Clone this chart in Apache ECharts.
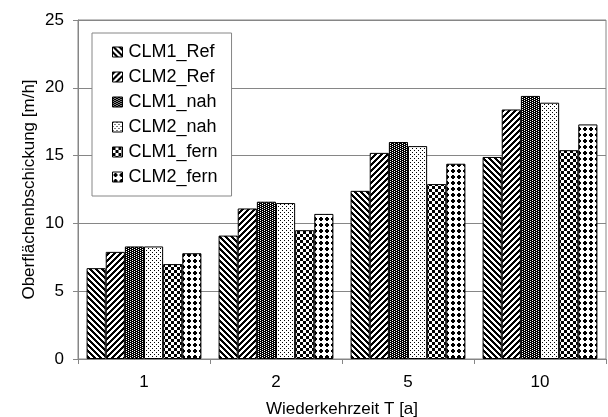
<!DOCTYPE html>
<html>
<head>
<meta charset="utf-8">
<script src="https://cdn.jsdelivr.net/npm/echarts@6/dist/echarts.min.js"></script>
<style>
html,body{margin:0;padding:0;background:#fff;}
#chart{width:608px;height:417px;}
</style>
</head>
<body>
<div id="chart"></div>
<script>
// Data
var categories = ['1', '2', '5', '10'];
var seriesNames = ['CLM1_Ref', 'CLM2_Ref', 'CLM1_nah', 'CLM2_nah', 'CLM1_fern', 'CLM2_fern'];
var CLM1_Ref  = [6.7, 9.1, 12.4, 14.9];
var CLM2_Ref  = [7.9, 11.1, 15.2, 18.4];
var CLM1_nah  = [8.3, 11.6, 16.0, 19.4];
var CLM2_nah  = [8.3, 11.5, 15.7, 18.9];
var CLM1_fern = [7.0, 9.5, 12.9, 15.4];
var CLM2_fern = [7.8, 10.7, 14.4, 17.3];
var yTicks = [0, 5, 10, 15, 20, 25];
var xTitle = 'Wiederkehrzeit T [a]';
var yTitle = 'Oberflächenbschickung [m/h]';

function makePattern(w, h, isBlack) {
  var c = document.createElement('canvas');
  c.width = w; c.height = h;
  var ctx = c.getContext('2d');
  var img = ctx.createImageData(w, h);
  for (var y = 0; y < h; y++) {
    for (var x = 0; x < w; x++) {
      var v = isBlack(x, y) ? 0 : 255;
      var i = (y * w + x) * 4;
      img.data[i] = v; img.data[i + 1] = v; img.data[i + 2] = v; img.data[i + 3] = 255;
    }
  }
  ctx.putImageData(img, 0, 0);
  return { image: c, repeat: 'repeat' };
}

var patterns = [
  makePattern(6, 6, function (x, y) { return ((x - y + 12) % 6) < 3; }),          // \\\
  makePattern(6, 6, function (x, y) { return ((x + y) % 6) < 3; }),               // ///
  makePattern(4, 2, function (x, y) { return !((x === 0 && y === 0) || (x === 2 && y === 1)); }), // dark
  makePattern(4, 4, function (x, y) { return (x === 0 && y === 0) || (x === 2 && y === 2); }),    // light
  makePattern(6, 6, function (x, y) { return ((Math.floor(x / 3) + Math.floor(y / 3)) % 2) === 0; }), // checker
  makePattern(6, 6, function (x, y) {
    var dx = x - 1, dy = y - 1;
    if (dx < 0 || dx > 3 || dy < 0 || dy > 3) return false;
    if ((dx === 0 || dx === 3) && (dy === 0 || dy === 3)) return false;
    return true;
  })
];

var allData = [CLM1_Ref, CLM2_Ref, CLM1_nah, CLM2_nah, CLM1_fern, CLM2_fern];
var series = seriesNames.map(function (n, i) {
  return {
    name: n,
    type: 'bar',
    data: allData[i],
    barGap: '0%',
    barCategoryGap: '13%',
    itemStyle: { color: patterns[i], borderColor: '#000', borderWidth: 1 },
    emphasis: { disabled: true },
    animation: false
  };
});

var chart = echarts.init(document.getElementById('chart'), null, { renderer: 'canvas' });
var font = 'Liberation Sans, Arial, sans-serif';
chart.setOption({
  animation: false,
  backgroundColor: '#fff',
  textStyle: { fontFamily: font },
  grid: {
    left: 78, right: 2, top: 20, bottom: 58,
    outerBoundsMode: 'none',
    containLabel: false,
    show: true, borderColor: '#868686', borderWidth: 1, backgroundColor: 'transparent'
  },
  legend: {
    orient: 'vertical',
    left: 92, top: 33,
    backgroundColor: '#fff',
    borderColor: '#868686', borderWidth: 1,
    padding: [10, 14, 10, 20],
    itemWidth: 10, itemHeight: 10, itemGap: 7,
    icon: 'rect',
    itemStyle: { borderColor: '#000', borderWidth: 1 },
    textStyle: { fontSize: 18, color: '#000', fontFamily: font, lineHeight: 18, padding: [0, 0, 0, 1] },
    data: seriesNames
  },
  xAxis: {
    type: 'category',
    data: categories,
    boundaryGap: true,
    axisLine: { lineStyle: { color: '#868686', width: 1 } },
    axisTick: { show: true, length: 5, lineStyle: { color: '#868686' } },
    axisLabel: { fontSize: 17, color: '#000', margin: 15, fontFamily: font },
    name: xTitle,
    nameLocation: 'middle',
    nameGap: 42,
    nameMoveOverlap: false,
    nameTextStyle: { fontSize: 17, color: '#000', fontFamily: font }
  },
  yAxis: {
    type: 'value',
    min: yTicks[0], max: yTicks[yTicks.length - 1], interval: 5,
    axisLine: { show: true, lineStyle: { color: '#868686', width: 1 } },
    axisTick: { show: true, length: 5, lineStyle: { color: '#868686' } },
    splitLine: { show: true, lineStyle: { color: '#868686', width: 1 } },
    axisLabel: { fontSize: 17, color: '#000', margin: 14, fontFamily: font },
    name: yTitle,
    nameLocation: 'middle',
    nameGap: 40,
    nameMoveOverlap: false,
    nameRotate: 90,
    nameTextStyle: { fontSize: 17, color: '#000', fontFamily: font }
  },
  series: series
});
</script>
</body>
</html>
